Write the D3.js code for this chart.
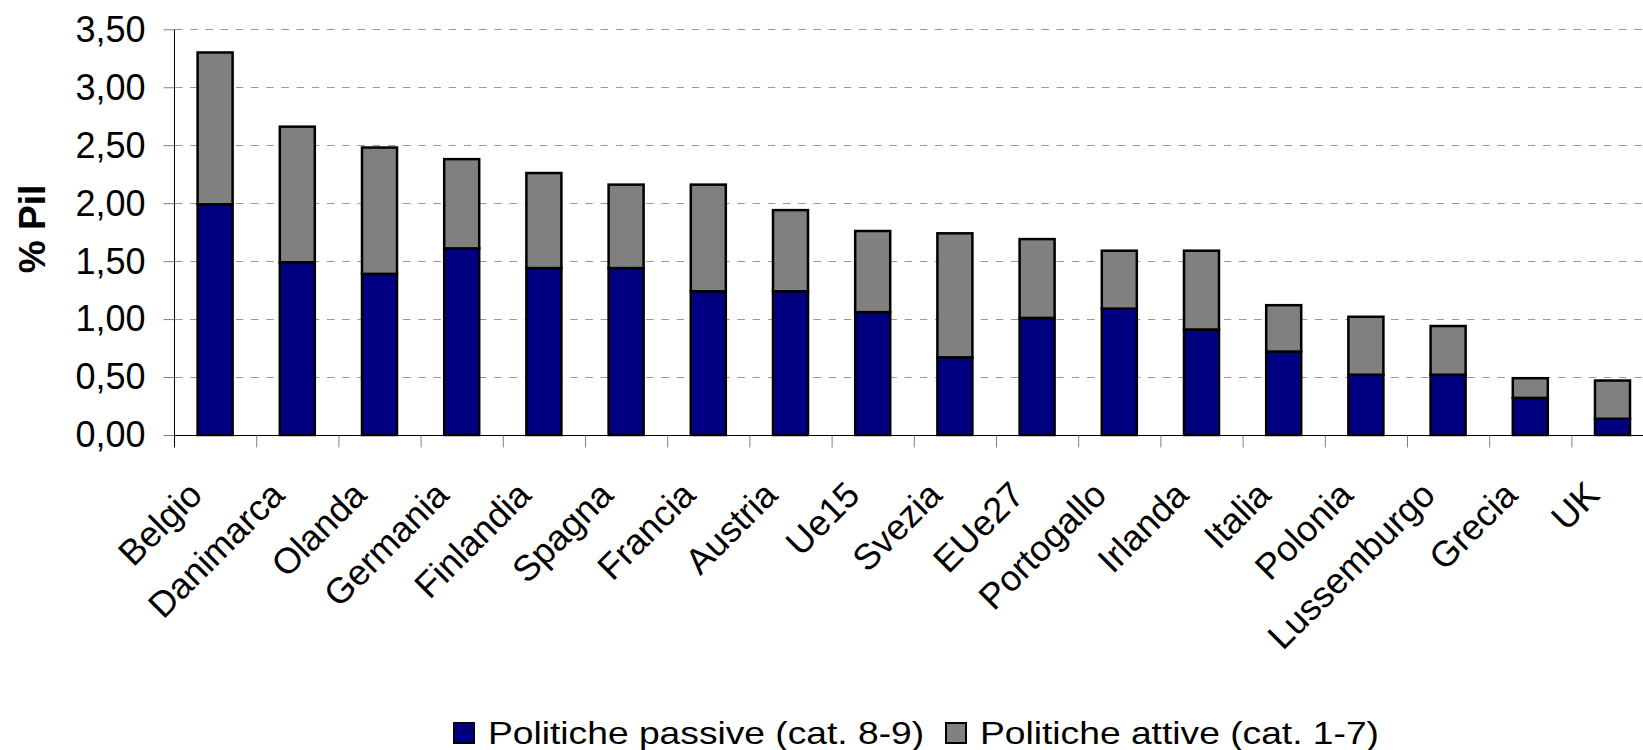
<!DOCTYPE html>
<html>
<head>
<meta charset="utf-8">
<script src="https://cdn.jsdelivr.net/npm/d3@7"></script>
<style>
  html, body { margin: 0; padding: 0; background: #fff; }
  svg { display: block; font-family: "Liberation Sans", Arial, sans-serif; }
</style>
</head>
<body>
<div id="chart"></div>
<script>
// values (% Pil)
let categories = ["Belgio","Danimarca","Olanda","Germania","Finlandia","Spagna","Francia","Austria","Ue15","Svezia","EUe27","Portogallo","Irlanda","Italia","Polonia","Lussemburgo","Grecia","UK"];
let passive = [1.99,1.49,1.39,1.61,1.44,1.44,1.24,1.24,1.06,0.67,1.01,1.09,0.91,0.72,0.52,0.52,0.32,0.14];
let active  = [1.31,1.17,1.09,0.77,0.82,0.72,0.92,0.70,0.70,1.07,0.68,0.50,0.68,0.40,0.50,0.42,0.17,0.33];
let yTicks = [0,0.5,1,1.5,2,2.5,3,3.5];
let seriesNames = ["Politiche passive (cat. 8-9)","Politiche attive (cat. 1-7)"];
let seriesColors = ["#000080","#808080"];

let width = 1643, height = 750;
let left = 174, axisY = 435, topY = 29.3;
let step = 82.2;
let right = left + categories.length * step;

let it = d3.formatLocale({decimal: ",", thousands: ".", grouping: [3], currency: ["", "€"]});
let fmt = it.format(".2f");

let table = categories.map((c, i) => ({name: c, passive: passive[i], active: active[i]}));
let stack = d3.stack().keys(["passive", "active"])(table);

let svg = d3.select("#chart").append("svg")
    .attr("width", width)
    .attr("height", height);

let x = d3.scaleBand()
    .domain(categories)
    .range([left, right])
    .paddingInner(0.574)
    .paddingOuter(0.287);

let xi = d3.scaleLinear().domain([0, categories.length]).range([left, right]);

let y = d3.scaleLinear().domain([0, 3.5]).range([axisY, topY]);

// dashed gridlines
svg.append("g")
    .selectAll("line")
    .data(yTicks.filter(d => d > 0))
    .join("line")
        .attr("x1", left + 1)
        .attr("x2", width)
        .attr("y1", d => Math.round(y(d)) + 0.5)
        .attr("y2", d => Math.round(y(d)) + 0.5)
        .attr("stroke", "#999")
        .attr("stroke-dasharray", "7.5,7.7");

// y axis
svg.append("g")
    .attr("transform", `translate(${left + 0.5},0)`)
    .call(d3.axisLeft(y).tickValues(yTicks).tickSize(11).tickPadding(18).tickFormat(fmt))
    .call(g => g.select(".domain").attr("stroke", "#000").attr("d", `M0,${topY}V${axisY}`))
    .call(g => g.selectAll(".tick line").attr("stroke", "#808080"))
    .call(g => g.selectAll(".tick text")
        .attr("fill", "#000")
        .style("font-size", "36px")
        .attr("dy", "0.33em"));

// bars
svg.append("g")
    .selectAll("g")
    .data(stack)
    .join("g")
        .attr("fill", (d, i) => seriesColors[i])
    .selectAll("rect")
    .data(d => d)
    .join("rect")
        .attr("x", d => x(d.data.name))
        .attr("y", d => y(d[1]))
        .attr("width", x.bandwidth())
        .attr("height", d => y(d[0]) - y(d[1]))
        .attr("stroke", "#000")
        .attr("stroke-width", 2.5);

// x axis with ticks between categories
svg.append("g")
    .attr("transform", `translate(0,${axisY + 0.5})`)
    .call(d3.axisBottom(xi).tickValues(d3.range(categories.length + 1)).tickSize(12).tickFormat(""))
    .call(g => g.select(".domain").attr("stroke", "#000").attr("d", `M${left},0H${width}`))
    .call(g => g.selectAll(".tick line").attr("stroke", (d, i) => i === 0 ? "#000" : "#808080"));

// rotated category labels
svg.append("g")
    .style("font-size", "36px")
    .selectAll("text")
    .data(categories)
    .join("text")
        .attr("transform", d => `translate(${x(d) + x.bandwidth() / 2 - 11},497) rotate(-45)`)
        .attr("text-anchor", "end")
        .text(d => d);

// y axis title
svg.append("text")
    .attr("transform", "translate(45,229) rotate(-90)")
    .attr("text-anchor", "middle")
    .style("font-size", "37px")
    .style("font-weight", "bold")
    .text("% Pil");

// legend
let legendX = [454, 946];
let legend = svg.append("g")
    .selectAll("g")
    .data(seriesNames)
    .join("g")
        .attr("transform", (d, i) => `translate(${legendX[i]},723)`);

legend.append("rect")
    .attr("width", 20)
    .attr("height", 20)
    .attr("fill", (d, i) => seriesColors[i])
    .attr("stroke", "#000")
    .attr("stroke-width", 2);

legend.append("text")
    .attr("transform", "translate(34,21) scale(1.2,1)")
    .style("font-size", "31px")
    .text(d => d);
</script>
</body>
</html>
